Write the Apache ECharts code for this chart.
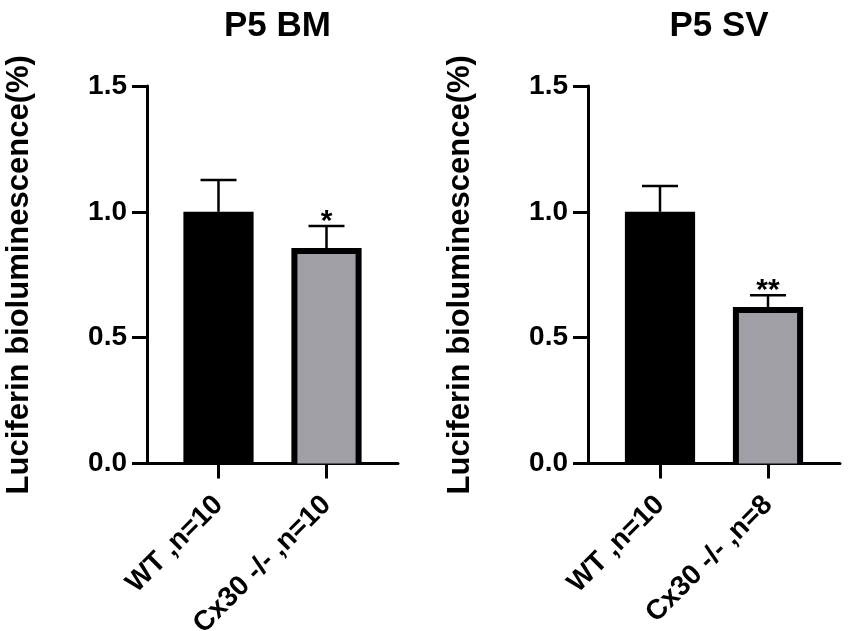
<!DOCTYPE html>
<html>
<head>
<meta charset="utf-8">
<script src="https://cdn.jsdelivr.net/npm/echarts@6/dist/echarts.min.js"></script>
<style>
html,body{margin:0;padding:0;background:#fff;}
#chart{width:850px;height:631px;}
</style>
</head>
<body>
<div id="chart"></div>
<script>
// ---- data ----
const titles = ['P5 BM', 'P5 SV'];
const categoriesBM = ['WT ,n=10', 'Cx30 -/- ,n=10'];
const categoriesSV = ['WT ,n=10', 'Cx30 -/- ,n=8'];
const meanBM = [1.0, 0.856];
const errBM = [0.126, 0.088];
const meanSV = [1.0, 0.622];
const errSV = [0.103, 0.047];
const sigBM = ['', '*'];
const sigSV = ['', '**'];
const yName = 'Luciferin bioluminescence(%)';
const yMin = 0, yMax = 1.5, yStep = 0.5;

// ---- styles ----
const FONT = "'Liberation Sans', Arial, Helvetica, sans-serif";
const barFills = ['#000000', '#a09fa6'];
const BORDER = 6;

const chart = echarts.init(document.getElementById('chart'));

function barRender(params, api) {
  const idx = api.value(0), v = api.value(1);
  const top = api.coord([idx, v]);
  const base = api.coord([idx, 0]);
  const bw = api.size([1, 0])[0] * 0.65;
  const x0 = top[0] - bw / 2;
  const h = base[1] - top[1];
  const children = [{type: 'rect', shape: {x: x0, y: top[1], width: bw, height: h}, style: {fill: '#000'}}];
  const fill = barFills[params.dataIndex];
  if (fill !== '#000000') {
    children.push({type: 'rect', shape: {x: x0 + BORDER, y: top[1] + BORDER, width: bw - 2 * BORDER, height: h - BORDER}, style: {fill: fill}});
  }
  return {type: 'group', children: children};
}

function makeErrRender(sigs) {
  return function (params, api) {
    const idx = api.value(0), m = api.value(1), hi = api.value(2);
    const p0 = api.coord([idx, m]);
    const p1 = api.coord([idx, hi]);
    const cw = api.size([1, 0])[0] * 0.333;
    const ls = {stroke: '#000', lineWidth: 2.5};
    const children = [
      {type: 'line', shape: {x1: p0[0], y1: p0[1], x2: p1[0], y2: p1[1]}, style: ls},
      {type: 'line', shape: {x1: p1[0] - cw / 2, y1: p1[1], x2: p1[0] + cw / 2, y2: p1[1]}, style: ls}
    ];
    const s = sigs[params.dataIndex];
    if (s) {
      children.push({type: 'text', x: p1[0], y: p1[1] - 4, style: {text: s, fill: '#000', font: 'bold 30px ' + FONT, align: 'center', verticalAlign: 'middle'}});
    }
    return {type: 'group', children: children};
  };
}

const gridTop = 86, gridH = 377.5;
const panels = [
  {frameLeft: 147, frameW: 251, barLeft: 164.5, barW: 216, cats: categoriesBM, mean: meanBM, err: errBM, sig: sigBM},
  {frameLeft: 588, frameW: 252, barLeft: 606, barW: 216, cats: categoriesSV, mean: meanSV, err: errSV, sig: sigSV}
];

const grid = [], xAxis = [], yAxis = [], series = [], title = [];
panels.forEach(function (p, i) {
  const gf = grid.length;
  grid.push({left: p.frameLeft, top: gridTop, width: p.frameW, height: gridH, containLabel: false, outerBoundsMode: 'none'});
  grid.push({left: p.barLeft, top: gridTop, width: p.barW, height: gridH, containLabel: false, outerBoundsMode: 'none'});
  // frame axes
  xAxis.push({gridIndex: gf, type: 'value', min: 0, max: 1,
    axisLine: {show: true, lineStyle: {color: '#000', width: 3}},
    axisTick: {show: false}, axisLabel: {show: false}, splitLine: {show: false}});
  yAxis.push({gridIndex: gf, type: 'value', min: yMin, max: yMax, interval: yStep,
    name: yName, nameLocation: 'middle', nameGap: 112,
    nameTextStyle: {fontFamily: FONT, fontWeight: 'bold', fontSize: 31, color: '#000'},
    axisLine: {show: true, lineStyle: {color: '#000', width: 3}},
    axisTick: {show: true, length: 15, lineStyle: {color: '#000', width: 3}},
    axisLabel: {margin: 20, fontFamily: FONT, fontWeight: 'bold', fontSize: 28, color: '#000',
      formatter: function (v) { return v.toFixed(1); }},
    splitLine: {show: false}});
  // bar axes
  xAxis.push({gridIndex: gf + 1, type: 'category', data: p.cats, boundaryGap: true,
    axisLine: {show: false},
    axisTick: {show: true, alignWithLabel: true, length: 15, lineStyle: {color: '#000', width: 3}},
    axisLabel: {interval: 0, rotate: 45, margin: 37, fontFamily: FONT, fontWeight: 'bold', fontSize: 28, color: '#000'},
    splitLine: {show: false}});
  yAxis.push({gridIndex: gf + 1, type: 'value', min: yMin, max: yMax, show: false});
  series.push({type: 'custom', xAxisIndex: gf + 1, yAxisIndex: gf + 1, renderItem: barRender,
    data: p.mean.map(function (v, k) { return [k, v]; }), z: 2});
  series.push({type: 'custom', xAxisIndex: gf + 1, yAxisIndex: gf + 1, renderItem: makeErrRender(p.sig),
    data: p.mean.map(function (v, k) { return [k, v, v + p.err[k]]; }), z: 3});
  title.push({text: titles[i], left: p.frameLeft + p.frameW / 2, textAlign: 'center', top: 4,
    textStyle: {fontFamily: FONT, fontWeight: 'bold', fontSize: 35, color: '#000'}});
});

chart.setOption({
  animation: false,
  backgroundColor: '#fff',
  title: title,
  grid: grid,
  xAxis: xAxis,
  yAxis: yAxis,
  series: series
});
</script>
</body>
</html>
